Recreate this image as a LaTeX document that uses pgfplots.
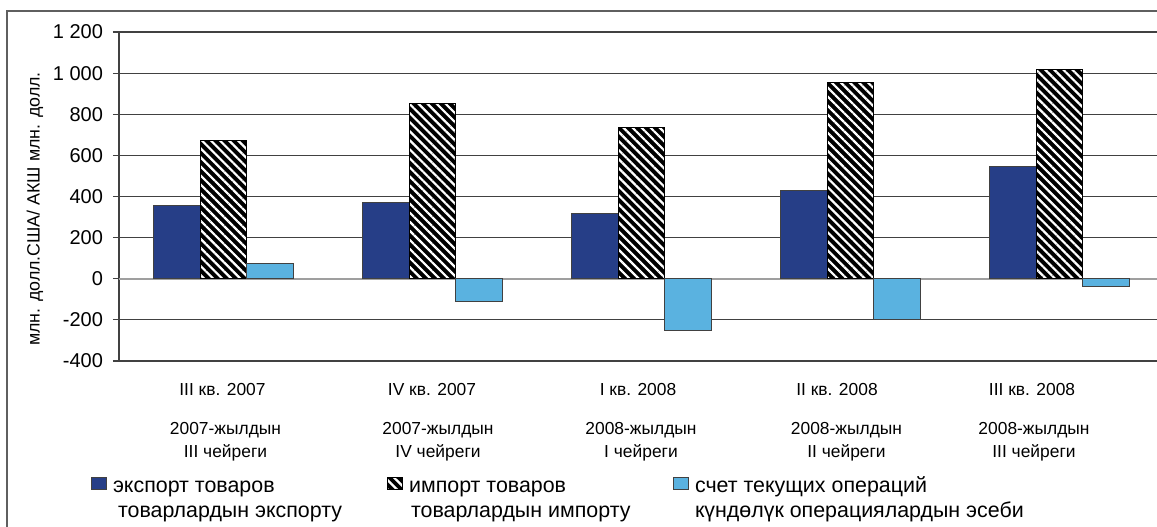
\documentclass[border=0pt]{standalone}
\usepackage{pgfplots}
\pgfplotsset{compat=1.18}
\usepackage{fontspec}
\setmainfont{Liberation Sans}
\usetikzlibrary{patterns.meta}

\definecolor{exportblue}{RGB}{38,62,135}
\definecolor{curblue}{RGB}{90,178,224}
\definecolor{gridgray}{RGB}{65,65,65}
\definecolor{framegray}{RGB}{95,95,95}

\tikzset{
  importfill/.style={fill=black,
    postaction={pattern={Lines[angle=-45,distance=3.2bp,line width=1.1bp]}, pattern color=white}},
}

\begin{document}
\begin{tikzpicture}
\useasboundingbox (0,0) rectangle (578.5bp,263.5bp);
\draw[framegray, line width=0.8bp] (3.5bp,-20bp) rectangle (600bp,258bp);

\begin{axis}[
  at={(59.5bp,83bp)}, anchor=south west,
  scale only axis, width=522.5bp, height=164.5bp,
  ybar=0pt, bar width=23.25bp,
  xmin=-0.5, xmax=4.5, ymin=-400, ymax=1200,
  ytick distance=200,
  xtick=\empty,
  axis x line=none, axis y line*=left,
  ymajorgrids, grid style={gridgray, line width=0.6bp},
  y axis line style={gridgray, line width=0.6bp, -},
  tick align=outside, major tick length=3bp,
  ytick style={gridgray, line width=0.6bp},
  yticklabel style={font=\fontsize{10bp}{12bp}\selectfont, xshift=-1.5bp},
  /pgf/number format/assume math mode=true,
  /pgf/number format/1000 sep={\ },
  extra y ticks={0}, extra y tick labels={},
  extra y tick style={grid style={gray!75, line width=0.8bp}, major tick length=0pt},
  ylabel={млн. долл.США/ АКШ млн. долл.},
  ylabel style={at={(axis description cs:-0.0804,0.462)}, anchor=center,
    font=\fontsize{8.9bp}{10bp}\selectfont},
  legend columns=3,
  legend style={at={(axis description cs:-0.0271,-0.345)}, anchor=north west,
    draw=none, fill=none, inner sep=0pt, row sep=0pt,
    font=\fontsize{10.7bp}{12.6bp}\selectfont,
    /tikz/every odd column/.append style={column sep=3bp},
    nodes={inner sep=0pt}},
  legend image code/.code={\draw[#1] (0bp,-2.2bp) rectangle (7.5bp,3.8bp);},
]
\addplot[fill=exportblue, draw=gridgray, line width=0.5bp]
  coordinates {(0,355) (1,373) (2,319) (3,428) (4,545)};
\addplot[importfill, draw=black, line width=0.5bp]
  coordinates {(0,673) (1,853) (2,734) (3,954) (4,1018)};
\addplot[fill=curblue, draw=gridgray, line width=0.5bp]
  coordinates {(0,76) (1,-113) (2,-251) (3,-200) (4,-36)};
\addlegendentry{\begin{tabular}[t]{@{}p{137bp}@{}}экспорт товаров\\\hspace{2.5bp}товарлардын экспорту\end{tabular}}
\addlegendentry{\begin{tabular}[t]{@{}p{132bp}@{}}импорт товаров\\\hspace{1bp}товарлардын импорту\end{tabular}}
\addlegendentry{\begin{tabular}[t]{@{}l@{}}счет текущих операций\\күндөлүк операциялардын эсеби\end{tabular}}
\end{axis}

\begin{scope}[every node/.style={anchor=base, inner sep=0pt, font=\fontsize{8.7bp}{10bp}\selectfont}]
\foreach \x/\t in {111.25/III кв. 2007, 216/IV кв. 2007, 319/I кв. 2008, 418.5/II кв. 2008, 516/III кв. 2008}
  \node at (\x bp,65.5bp) {\t};
\foreach \x/\a/\b in {112.75/2007/III, 219/2007/IV, 320.5/2008/I, 423.25/2008/II, 517/2008/III} {
  \node at (\x bp,46bp) {\a-жылдын};
  \node at (\x bp,35bp) {\b\ чейреги};
}
\end{scope}
\end{tikzpicture}
\end{document}
